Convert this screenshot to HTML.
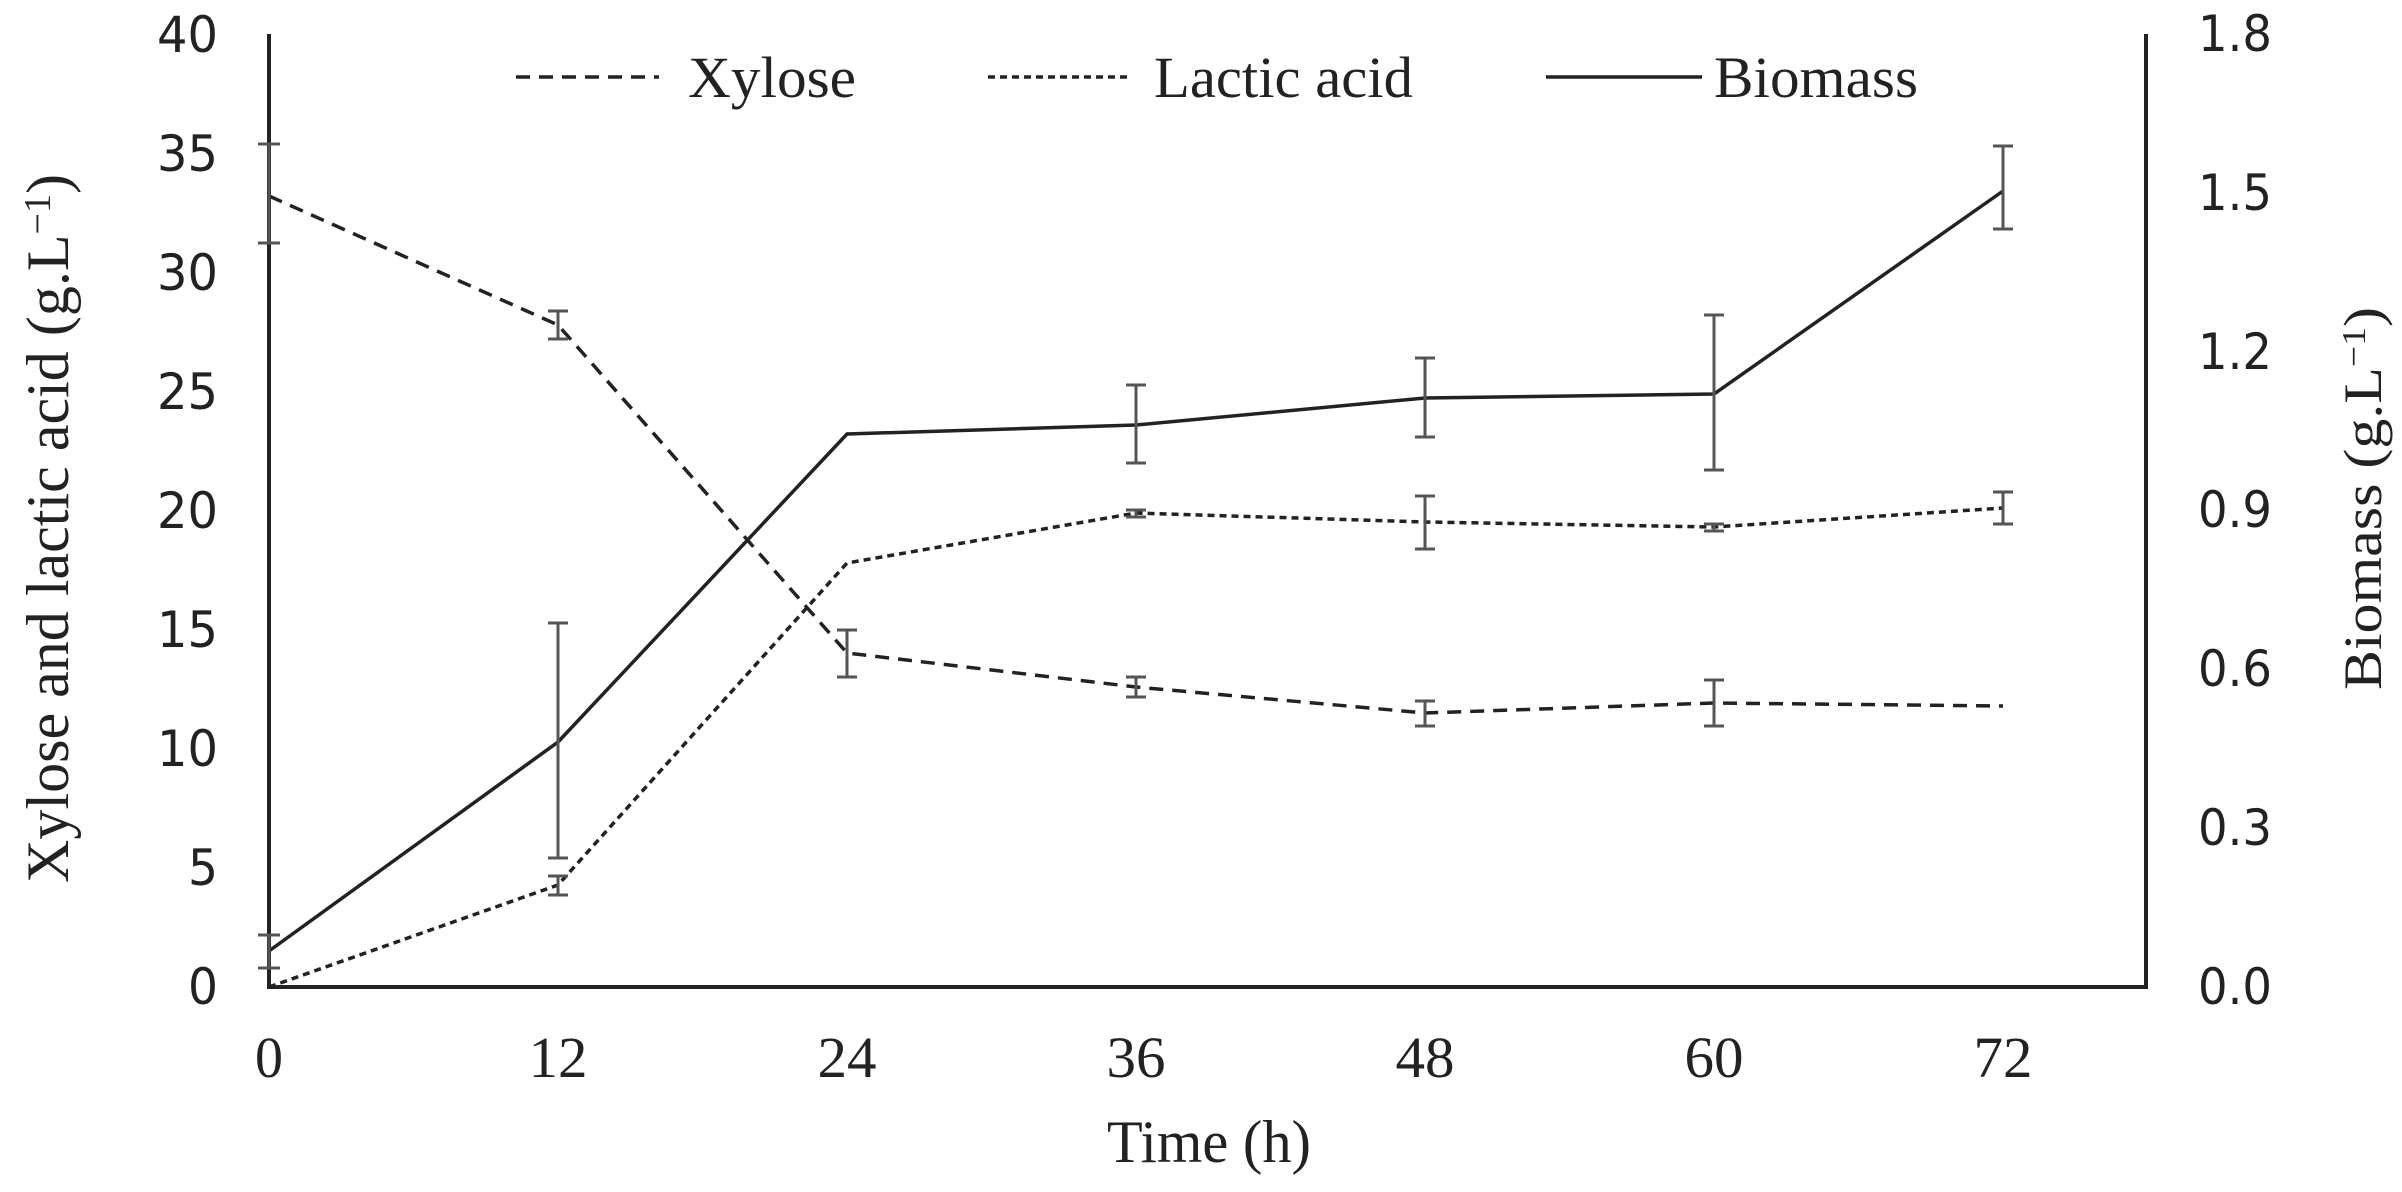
<!DOCTYPE html>
<html><head><style>body{margin:0;background:#fff}</style></head><body>
<svg width="2402" height="1187" xmlns="http://www.w3.org/2000/svg" font-family="Liberation Serif, serif" fill="#222">
<g stroke="#222" stroke-width="4" fill="none">
<polyline points="269,34 269,987 2146,987 2146,34"/>
</g>
<g font-size="50" text-anchor="end" font-family="DejaVu Sans, sans-serif">
<text x="218" y="52" textLength="61" lengthAdjust="spacingAndGlyphs">40</text>
<text x="218" y="171" textLength="61" lengthAdjust="spacingAndGlyphs">35</text>
<text x="218" y="290" textLength="61" lengthAdjust="spacingAndGlyphs">30</text>
<text x="218" y="409" textLength="61" lengthAdjust="spacingAndGlyphs">25</text>
<text x="218" y="528" textLength="61" lengthAdjust="spacingAndGlyphs">20</text>
<text x="218" y="647" textLength="61" lengthAdjust="spacingAndGlyphs">15</text>
<text x="218" y="766" textLength="61" lengthAdjust="spacingAndGlyphs">10</text>
<text x="218" y="885" textLength="30" lengthAdjust="spacingAndGlyphs">5</text>
<text x="218" y="1004" textLength="30" lengthAdjust="spacingAndGlyphs">0</text>
</g>
<g font-size="50" text-anchor="start" font-family="DejaVu Sans, sans-serif">
<text x="2198" y="51" textLength="74" lengthAdjust="spacingAndGlyphs">1.8</text>
<text x="2198" y="210" textLength="74" lengthAdjust="spacingAndGlyphs">1.5</text>
<text x="2198" y="369" textLength="74" lengthAdjust="spacingAndGlyphs">1.2</text>
<text x="2198" y="527" textLength="74" lengthAdjust="spacingAndGlyphs">0.9</text>
<text x="2198" y="686" textLength="74" lengthAdjust="spacingAndGlyphs">0.6</text>
<text x="2198" y="845" textLength="74" lengthAdjust="spacingAndGlyphs">0.3</text>
<text x="2198" y="1004" textLength="74" lengthAdjust="spacingAndGlyphs">0.0</text>
</g>
<g font-size="58" text-anchor="middle">
<text x="269" y="1077" textLength="28" lengthAdjust="spacingAndGlyphs">0</text>
<text x="558" y="1077" textLength="59" lengthAdjust="spacingAndGlyphs">12</text>
<text x="847" y="1077" textLength="59" lengthAdjust="spacingAndGlyphs">24</text>
<text x="1136" y="1077" textLength="59" lengthAdjust="spacingAndGlyphs">36</text>
<text x="1425" y="1077" textLength="59" lengthAdjust="spacingAndGlyphs">48</text>
<text x="1714" y="1077" textLength="59" lengthAdjust="spacingAndGlyphs">60</text>
<text x="2003" y="1077" textLength="59" lengthAdjust="spacingAndGlyphs">72</text>
</g>
<text x="1107" y="1162" font-size="60" textLength="204" lengthAdjust="spacingAndGlyphs">Time (h)</text>
<text transform="translate(68,883) rotate(-90)" font-size="60" textLength="709" lengthAdjust="spacingAndGlyphs">Xylose and lactic acid (g.L<tspan dy="-18" font-size="38">−1</tspan><tspan dy="18">)</tspan></text>
<text transform="translate(2381,690) rotate(-90)" font-size="54" textLength="383" lengthAdjust="spacingAndGlyphs">Biomass (g.L<tspan dy="-16" font-size="34">−1</tspan><tspan dy="16">)</tspan></text>
<!-- legend -->
<g stroke="#222" stroke-width="3.5">
<line x1="516" y1="77" x2="659" y2="77" stroke-dasharray="14,9"/>
<line x1="988" y1="77" x2="1129" y2="77" stroke-dasharray="7,5"/>
<line x1="1546" y1="77" x2="1702" y2="77"/>
</g>
<g font-size="58">
<text x="688" y="97" textLength="168" lengthAdjust="spacingAndGlyphs">Xylose</text>
<text x="1154" y="97" textLength="259" lengthAdjust="spacingAndGlyphs">Lactic acid</text>
<text x="1714" y="97" textLength="204" lengthAdjust="spacingAndGlyphs">Biomass</text>
</g>
<g fill="none" stroke="#222" stroke-width="3.5">
<polyline stroke-dasharray="14,9" points="269,196 558,325 847,653 1136,687 1425,713 1714,703 2003,706"/>
<polyline stroke-dasharray="7,5" points="269,987 558,885 847,563 1136,513 1425,522 1714,527 2003,508"/>
<polyline points="269,951 558,742 847,434 1136,425 1425,398 1714,394 2003,191"/>
</g>
<g fill="none" stroke="#555" stroke-width="3">
<path d="M269,144V243M258,144h22M258,243h22"/>
<path d="M558,311V339M548,311h20M548,339h20"/>
<path d="M847,630V677M837,630h20M837,677h20"/>
<path d="M1136,677V697M1126,677h20M1126,697h20"/>
<path d="M1425,701V726M1415,701h20M1415,726h20"/>
<path d="M1714,680V726M1704,680h20M1704,726h20"/>
<path d="M558,876V895M548,876h20M548,895h20"/>
<path d="M1136,510V517M1126,510h20M1126,517h20"/>
<path d="M1425,496V549M1415,496h20M1415,549h20"/>
<path d="M1714,524V531M1704,524h20M1704,531h20"/>
<path d="M2003,492V524M1993,492h20M1993,524h20"/>
<path d="M269,935V968M258,935h22M258,968h22"/>
<path d="M558,623V858M548,623h20M548,858h20"/>
<path d="M1136,385V463M1126,385h20M1126,463h20"/>
<path d="M1425,358V437M1415,358h20M1415,437h20"/>
<path d="M1714,315V470M1704,315h20M1704,470h20"/>
<path d="M2003,146V229M1993,146h20M1993,229h20"/>
</g>
</svg>
</body></html>
